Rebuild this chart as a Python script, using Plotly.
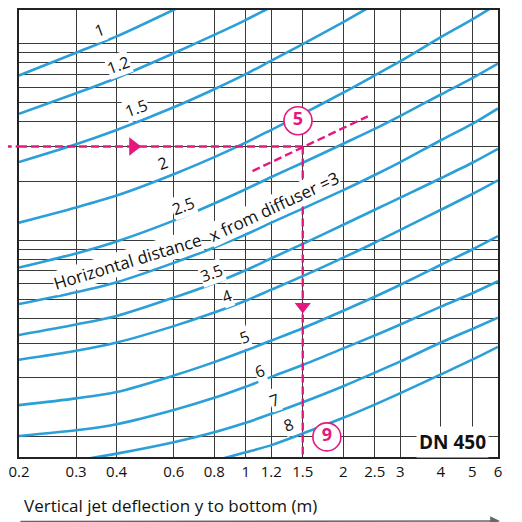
import math
import plotly.graph_objects as go

# ---- axes -------------------------------------------------------------
x_ticks = [0.2, 0.3, 0.4, 0.6, 0.8, 1, 1.2, 1.5, 2, 2.5, 3, 4, 5, 6]
x_tick_text = ["0.2", "0.3", "0.4", "0.6", "0.8", "1", "1.2", "1.5", "2", "2.5", "3", "4", "5", "6"]
y_grid = [1, 2, 3, 4, 5, 6, 7, 8, 9, 10, 20, 30, 40, 50, 60, 70, 80, 90, 100]
x_min, x_max = 0.2, 6
y_min, y_max = 0.79, 148.5

# ---- curves: horizontal distance x from diffuser (labels) -----------
curve_labels = ["1", "1.2", "1.5", "2", "2.5", "3", "3.5", "4", "5", "6", "7", "8"]
x_1 = [0.2, 0.3, 0.4, 0.6, 0.8]
y_1 = [69, 90, 109, 149, 188]
x_1_2 = [0.2, 0.3, 0.4, 0.6, 0.8, 1, 1.2, 1.5]
y_1_2 = [44, 56, 67, 89.5, 111, 132, 154, 185]
x_1_5 = [0.2, 0.3, 0.4, 0.6, 0.8, 1, 1.2, 1.5, 2, 2.5, 3]
y_1_5 = [25, 30.8, 36.4, 47.5, 58.7, 70, 82, 99.5, 129, 159, 189]
x_full = [0.2, 0.3, 0.4, 0.6, 0.8, 1, 1.2, 1.5, 2, 2.5, 3, 4, 5, 6]
y_2 = [12.3, 14.7, 16.9, 21.7, 26.5, 31.4, 36.5, 44, 56.4, 69, 81.5, 108, 133, 160]
y_2_5 = [7.27, 8.58, 9.87, 12.6, 15.4, 18.2, 21.0, 24.8, 31.0, 36.9, 43.0, 55.2, 66.9, 79.3]
y_3 = [4.74, 5.44, 6.12, 7.68, 9.2, 10.7, 12.3, 14.5, 18.0, 21.5, 25.0, 32.3, 39.1, 46.9]
y_3_5 = [3.3, 3.73, 4.12, 5.11, 6.05, 7.04, 8.1, 9.59, 12.0, 14.3, 16.5, 20.7, 24.8, 29.2]
y_4 = [2.47, 2.74, 3.02, 3.66, 4.29, 4.93, 5.61, 6.57, 8.16, 9.72, 11.3, 14.3, 17.2, 20.2]
y_5 = [1.45, 1.57, 1.69, 2.05, 2.4, 2.75, 3.09, 3.57, 4.38, 5.16, 5.94, 7.51, 8.98, 10.5]
y_6 = [1.01, 1.08, 1.16, 1.37, 1.58, 1.8, 2.02, 2.32, 2.82, 3.28, 3.73, 4.6, 5.38, 6.19]
x_7 = [0.3, 0.4, 0.6, 0.8, 1, 1.2, 1.5, 2, 2.5, 3, 4, 5, 6]
y_7 = [0.757, 0.822, 0.94, 1.056, 1.18, 1.31, 1.5, 1.81, 2.12, 2.42, 3.02, 3.54, 4.04]
x_8 = [0.8, 1, 1.2, 1.5, 2, 2.5, 3, 4, 5, 6]
y_8 = [0.755, 0.834, 0.908, 1.04, 1.25, 1.46, 1.67, 2.08, 2.47, 2.87]

curves = [(x_1, y_1), (x_1_2, y_1_2), (x_1_5, y_1_5), (x_full, y_2), (x_full, y_2_5),
          (x_full, y_3), (x_full, y_3_5), (x_full, y_4), (x_full, y_5), (x_full, y_6),
          (x_7, y_7), (x_8, y_8)]

# ---- worked example --------------------------------------------------
ex_y = 30          # entry value read from the left
ex_x = 1.5         # resulting deflection
tilt_x = [1.05, 2.38]
tilt_y = [22.5, 42.7]
circle_5 = (1.45, 40.6, "5")
circle_9 = (1.78, 1.0, "9")
h_arrow_x = 0.45
v_arrow_y = 4.6

BLUE = "#2a9fd8"
PINK = "#e5197d"
GRID = "#3a3a3a"
FONT = "Open Sans"
TXT = "#111"

fig = go.Figure()
for cx, cy in curves:
    fig.add_trace(go.Scatter(x=cx, y=cy, mode="lines",
                             line=dict(color=BLUE, width=2.6, shape="spline", smoothing=0.8),
                             hoverinfo="skip"))

dash = "8px,4px"
fig.add_trace(go.Scatter(x=[x_min, ex_x], y=[ex_y, ex_y], mode="lines", line=dict(color=PINK, width=2.4, dash=dash)))
fig.add_trace(go.Scatter(x=[ex_x, ex_x], y=[ex_y, y_min], mode="lines", line=dict(color=PINK, width=2.4, dash=dash)))
fig.add_trace(go.Scatter(x=tilt_x, y=tilt_y, mode="lines", line=dict(color=PINK, width=2.4, dash=dash)))
fig.add_shape(type="line", xref="paper", yref="y", x0=-0.032, x1=0, y0=ex_y, y1=ex_y,
              line=dict(color=PINK, width=2.4, dash=dash))
fig.add_trace(go.Scatter(x=[h_arrow_x], y=[ex_y], mode="markers",
                         marker=dict(symbol="triangle-right", size=16, color=PINK)))
fig.add_trace(go.Scatter(x=[ex_x], y=[v_arrow_y], mode="markers",
                         marker=dict(symbol="triangle-down", size=14, color=PINK)))
for cx, cy, t in (circle_5, circle_9):
    fig.add_trace(go.Scatter(x=[cx], y=[cy], mode="markers+text", text=["<b>%s</b>" % t],
                             textposition="middle center",
                             textfont=dict(family=FONT, size=18, color=PINK),
                             marker=dict(symbol="circle", size=28, color="white",
                                         line=dict(color=PINK, width=1.6))))

# ---- curve labels (paper positions) ---------------------------------
label_pos = {
    "1": (0.1685, 0.9554), "1.2": (0.2067, 0.8773), "1.5": (0.2451, 0.7806),
    "2": (0.3006, 0.6579), "2.5": (0.3424, 0.5613), "3.5": (0.4017, 0.4126),
    "4": (0.4330, 0.3606), "5": (0.4712, 0.2676), "6": (0.5025, 0.1934),
    "7": (0.5338, 0.1264), "8": (0.5616, 0.0707),
}
for lab in curve_labels:
    if lab not in label_pos:
        continue
    px, py = label_pos[lab]
    fig.add_annotation(x=px, y=py, xref="paper", yref="paper", xanchor="center", yanchor="middle",
                       text=lab, showarrow=False, textangle=-20, bgcolor="white", borderpad=0,
                       font=dict(family=FONT, size=16, color=TXT))

fig.add_annotation(x=0.2259, y=0.4364, xref="paper", yref="paper", xanchor="center", yanchor="middle",
                   text="Horizontal distance", showarrow=False, textangle=-17, bgcolor="white", borderpad=0,
                   font=dict(family=FONT, size=17, color=TXT))
fig.add_annotation(x=0.5317, y=0.5613, xref="paper", yref="paper", xanchor="center", yanchor="middle",
                   text="x from diffuser =3", showarrow=False, textangle=-25, bgcolor="white", borderpad=0,
                   font=dict(family=FONT, size=17, color=TXT))
fig.add_annotation(x=0.9054, y=0.0339, xref="paper", yref="paper", xanchor="center", yanchor="middle",
                   text="<b>DN 450</b>", showarrow=False, bgcolor="white", borderpad=2,
                   font=dict(family=FONT, size=19, color=TXT))

fig.add_annotation(x=0.0056, y=-0.1077, xref="paper", yref="paper", xanchor="left", yanchor="middle",
                   text="Vertical jet deflection y to bottom (m)", showarrow=False,
                   font=dict(family=FONT, size=17, color=TXT))
fig.add_annotation(x=1.004, y=-0.1445, xref="paper", yref="paper", text="", showarrow=True,
                   axref="pixel", ayref="pixel", ax=-481, ay=0, arrowhead=2, arrowsize=1.3,
                   arrowwidth=1.5, arrowcolor="#666")

axis_common = dict(type="log", showgrid=True, gridcolor=GRID, gridwidth=1.2, showline=True, mirror=True,
                   linecolor="#222", linewidth=1.5, zeroline=False)
fig.update_xaxes(range=[math.log10(x_min), math.log10(x_max)], tickvals=x_ticks, ticktext=x_tick_text,
                 ticks="", tickfont=dict(family=FONT, size=15, color=TXT), **axis_common)
fig.update_yaxes(range=[math.log10(y_min), math.log10(y_max)], tickvals=y_grid, showticklabels=False,
                 ticks="", **axis_common)
# the page body has an 8px margin: size the figure so the plot area lands where the reference has it
fig.update_layout(width=514, height=514, margin=dict(l=11, r=24, t=0, b=65), showlegend=False,
                  plot_bgcolor="white", paper_bgcolor="white", font=dict(family=FONT))
fig.write_html("out.html")
